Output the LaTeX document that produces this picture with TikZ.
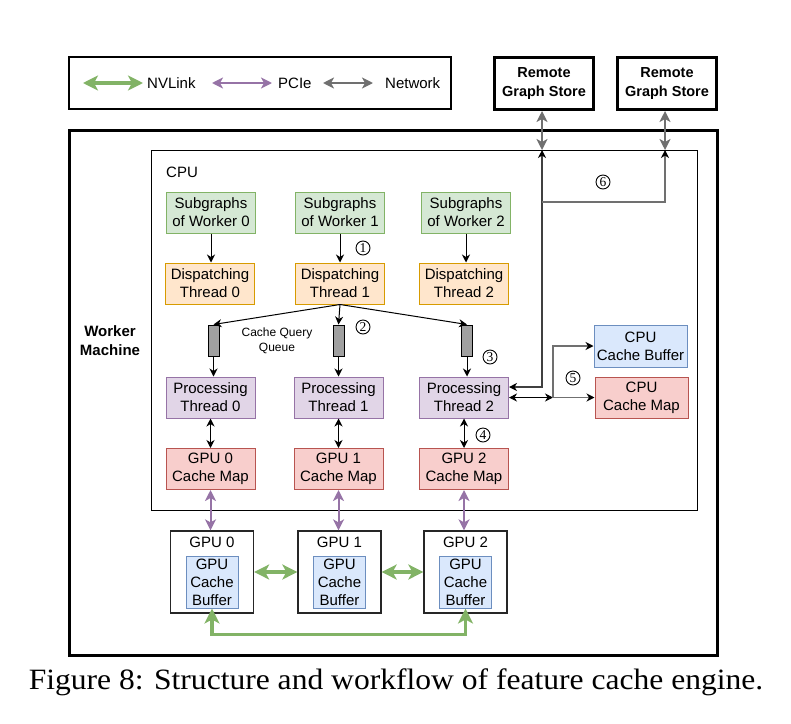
\documentclass[tikz,border=0pt]{standalone}
\usepackage{graphicx}
\usepackage{fontspec}
\setmainfont{Liberation Sans}
\newfontfamily\capfont{Liberation Serif}
\usetikzlibrary{arrows.meta}
\definecolor{gfill}{HTML}{D5E8D4}\definecolor{gline}{HTML}{82B366}
\definecolor{ofill}{HTML}{FFE6CC}\definecolor{oline}{HTML}{D79B00}
\definecolor{pfill}{HTML}{E1D5E7}\definecolor{pline}{HTML}{9673A6}
\definecolor{rfill}{HTML}{F8CECC}\definecolor{rline}{HTML}{B85450}
\definecolor{bfill}{HTML}{DAE8FC}\definecolor{bline}{HTML}{6C8EBF}
\definecolor{netc}{HTML}{707070}
\definecolor{qfill}{HTML}{A0A0A0}
\newcommand{\nf}{\fontsize{15}{18}\selectfont}
\tikzset{
  box/.style={draw, rectangle, minimum width=89pt, minimum height=41pt, align=center, font=\nf, inner sep=1pt, line width=1pt},
  gbox/.style={box, fill=gfill, draw=gline},
  obox/.style={box, fill=ofill, draw=oline},
  pbox/.style={box, fill=pfill, draw=pline},
  rbox/.style={box, fill=rfill, draw=rline},
  bbox/.style={box, fill=bfill, draw=bline},
  queue/.style={draw, rectangle, fill=qfill, minimum width=11pt, minimum height=31pt, inner sep=0pt, line width=1pt},
  gpubox/.style={draw=black!85, rectangle, minimum width=83pt, minimum height=82pt, line width=1.3pt, inner sep=0pt},
  rstore/.style={draw, rectangle, line width=3pt, minimum width=99pt, minimum height=52pt, align=center, font=\bfseries\fontsize{14.5}{18.5}\selectfont, inner sep=1pt},
  num/.style={draw, circle, line width=0.9pt, minimum size=14pt, inner sep=0pt, font=\capfont\fontsize{13.5}{13.5}\selectfont},
  blk/.style={line width=1pt, -{Stealth[length=8pt,width=8pt,inset=2.5pt]}},
  blkboth/.style={line width=1pt, {Stealth[length=8pt,width=8pt,inset=2.5pt]}-{Stealth[length=8pt,width=8pt,inset=2.5pt]}},
  nvl/.style={draw=gline, line width=3.2pt, {Stealth[length=15pt,width=15pt,inset=4pt]}-{Stealth[length=15pt,width=15pt,inset=4pt]}},
  pcie/.style={draw=pline, line width=2pt, {Stealth[length=11pt,width=11pt,inset=3pt]}-{Stealth[length=11pt,width=11pt,inset=3pt]}},
  net/.style={draw=netc, line width=2.4pt, {Stealth[length=11pt,width=11pt,inset=3pt]}-{Stealth[length=11pt,width=11pt,inset=3pt]}},
  gline1/.style={draw=netc, line width=1.3pt},
}
\begin{document}
\begin{tikzpicture}[x=1pt,y=-1pt]
\useasboundingbox (0,0) rectangle (791,723);
% legend
\node[draw, line width=1.2pt, minimum width=382pt, minimum height=52pt, inner sep=0pt] (leg) at (260,83) {};
\coordinate (l1a) at (83,83); \coordinate (l1b) at (143,83);
\coordinate (l2a) at (212,83); \coordinate (l2b) at (272,83);
\coordinate (l3a) at (323,83); \coordinate (l3b) at (373,83);
\draw[nvl] (l1a) -- (l1b);
\draw[pcie] (l2a) -- (l2b);
\draw[net] (l3a) -- (l3b);
\node[anchor=west, inner sep=0pt, font=\nf] (t1) at (147,83) {NVLink};
\node[anchor=west, inner sep=0pt, font=\nf] (t2) at (278,83) {PCIe};
\node[anchor=west, inner sep=0pt, font=\nf] (t3) at (385,83) {Network};
% remote stores
\node[rstore] (r1) at (544,83.5) {Remote\\Graph Store};
\node[rstore] (r2) at (667,83.5) {Remote\\Graph Store};
% machine
\node[draw, line width=3pt, minimum width=648pt, minimum height=525pt, inner sep=0pt] (wm) at (393,392.5) {};
\node[align=center, font=\bfseries\fontsize{15}{19}\selectfont] (wmt) at (110,341) {Worker\\Machine};
\node[draw, line width=1pt, minimum width=546pt, minimum height=360pt, inner sep=0pt] (cpu) at (424,330) {};
\node[anchor=west, inner sep=0pt, font=\nf] (cput) at (166,172) {CPU};
% columns
\node[gbox] (s0) at (211,212.5) {Subgraphs\\of Worker 0};
\node[gbox] (s1) at (340,212.5) {Subgraphs\\of Worker 1};
\node[gbox] (s2) at (466,212.5) {Subgraphs\\of Worker 2};
\node[obox] (d0) at (210,283.5) {Dispatching\\Thread 0};
\node[obox] (d1) at (340,283.5) {Dispatching\\Thread 1};
\node[obox] (d2) at (464,283.5) {Dispatching\\Thread 2};
\node[queue] (q0) at (213.5,340.5) {};
\node[queue] (q1) at (338.5,340.5) {};
\node[queue] (q2) at (467,340.5) {};
\node[align=center, font=\fontsize{12}{15}\selectfont] (cq) at (277,341) {Cache Query\\Queue};
\node[pbox] (p0) at (210.5,397.5) {Processing\\Thread 0};
\node[pbox] (p1) at (338.5,397.5) {Processing\\Thread 1};
\node[pbox] (p2) at (464,397.5) {Processing\\Thread 2};
\node[rbox] (m0) at (210.5,469) {GPU 0\\Cache Map};
\node[rbox] (m1) at (338.5,469) {GPU 1\\Cache Map};
\node[rbox] (m2) at (464,469) {GPU 2\\Cache Map};
\node[bbox, minimum width=93pt, minimum height=42pt] (cb) at (640.5,346) {CPU\\Cache Buffer};
\node[rbox, minimum width=93pt] (cm) at (641.5,397.5) {CPU\\Cache Map};
% GPUs
\node[gpubox] (g0) at (212,572) {};
\node[gpubox] (g1) at (339.5,572) {};
\node[gpubox] (g2) at (465.5,572) {};
\node[font=\nf] (g0t) at (212,542) {GPU 0};
\node[font=\nf] (g1t) at (339.5,542) {GPU 1};
\node[font=\nf] (g2t) at (465.5,542) {GPU 2};
\node[bbox, minimum width=52pt, minimum height=52pt, inner sep=0pt] (b0) at (212,582) {GPU\\Cache\\Buffer};
\node[bbox, minimum width=52pt, minimum height=52pt, inner sep=0pt] (b1) at (339.5,582) {GPU\\Cache\\Buffer};
\node[bbox, minimum width=52pt, minimum height=52pt, inner sep=0pt] (b2) at (465.5,582) {GPU\\Cache\\Buffer};
% arrows in columns
\draw[blk] (s0) -- (s0 |- d0.north);
\draw[blk] (s1) -- (s1 |- d1.north);
\draw[blk] (s2.south) -- (s2.south |- d2.north);
\draw[blk] (d1.south) -- (q0.north);
\draw[blk] (d1.south) -- (q1.north);
\draw[blk] (d1.south) -- (q2.north);
\draw[blk] (q0.south) -- (q0.south |- p0.north);
\draw[blk] (q1.south) -- (q1.south |- p1.north);
\draw[blk] (q2.south) -- (q2.south |- p2.north);
\draw[blkboth] (p0.south) -- (m0.north);
\draw[blkboth] (p1.south) -- (m1.north);
\draw[blkboth] (p2.south) -- (m2.north);
\draw[pcie] (m0.south) -- (m0.south |- g0.north);
\draw[pcie] (m1.south) -- (m1.south |- g1.north);
\draw[pcie] (m2.south) -- (m2.south |- g2.north);
\draw[nvl] (g0.east) -- (g1.west);
\draw[nvl] (g1.east) -- (g2.west);
\draw[nvl] (b0.south) -- ++(0,26) -| (b2.south);
% network paths
\coordinate (n1) at (542,150);
\coordinate (n2) at (665,150);
\draw[net] (r1.south -| n1) -- (n1);
\draw[net] (r2.south -| n2) -- (n2);
\coordinate (a1) at (542,387);
\draw[draw=black!75, line width=1.3pt, {Stealth[length=8pt,width=8pt,inset=2.5pt,black]}-{Stealth[length=8pt,width=8pt,inset=2.5pt,black]}] (p2.east |- a1) -- (a1) -- (n1);
\coordinate (b6) at (542,202);
\draw[gline1, -{Stealth[length=8pt,width=8pt,inset=2.5pt,black]}] (b6) -| (n2);
\coordinate (j5) at (553,397.5);
\draw[blkboth] (p2.east |- cm.west) -- (j5);
\draw[gline1, -{Stealth[length=8pt,width=8pt,inset=2.5pt,black]}] (j5) -- (cm.west);
\draw[gline1, -{Stealth[length=8pt,width=8pt,inset=2.5pt,black]}] (j5) |- (cb.west);
% numbers
\node[num] (c1) at (363,248) {1};
\node[num] (c2) at (363,327) {2};
\node[num] (c3) at (490,357) {3};
\node[num] (c4) at (483,435) {4};
\node[num] (c5) at (573,378) {5};
\node[num] (c6) at (603,182) {6};
% caption
\node[anchor=base, inner sep=0pt, font=\capfont\fontsize{29.5}{31}\selectfont] (cap) at (396,689) {\scalebox{1.07}[1]{Figure 8: Structure and workflow of feature cache engine.}};
\end{tikzpicture}
\end{document}
